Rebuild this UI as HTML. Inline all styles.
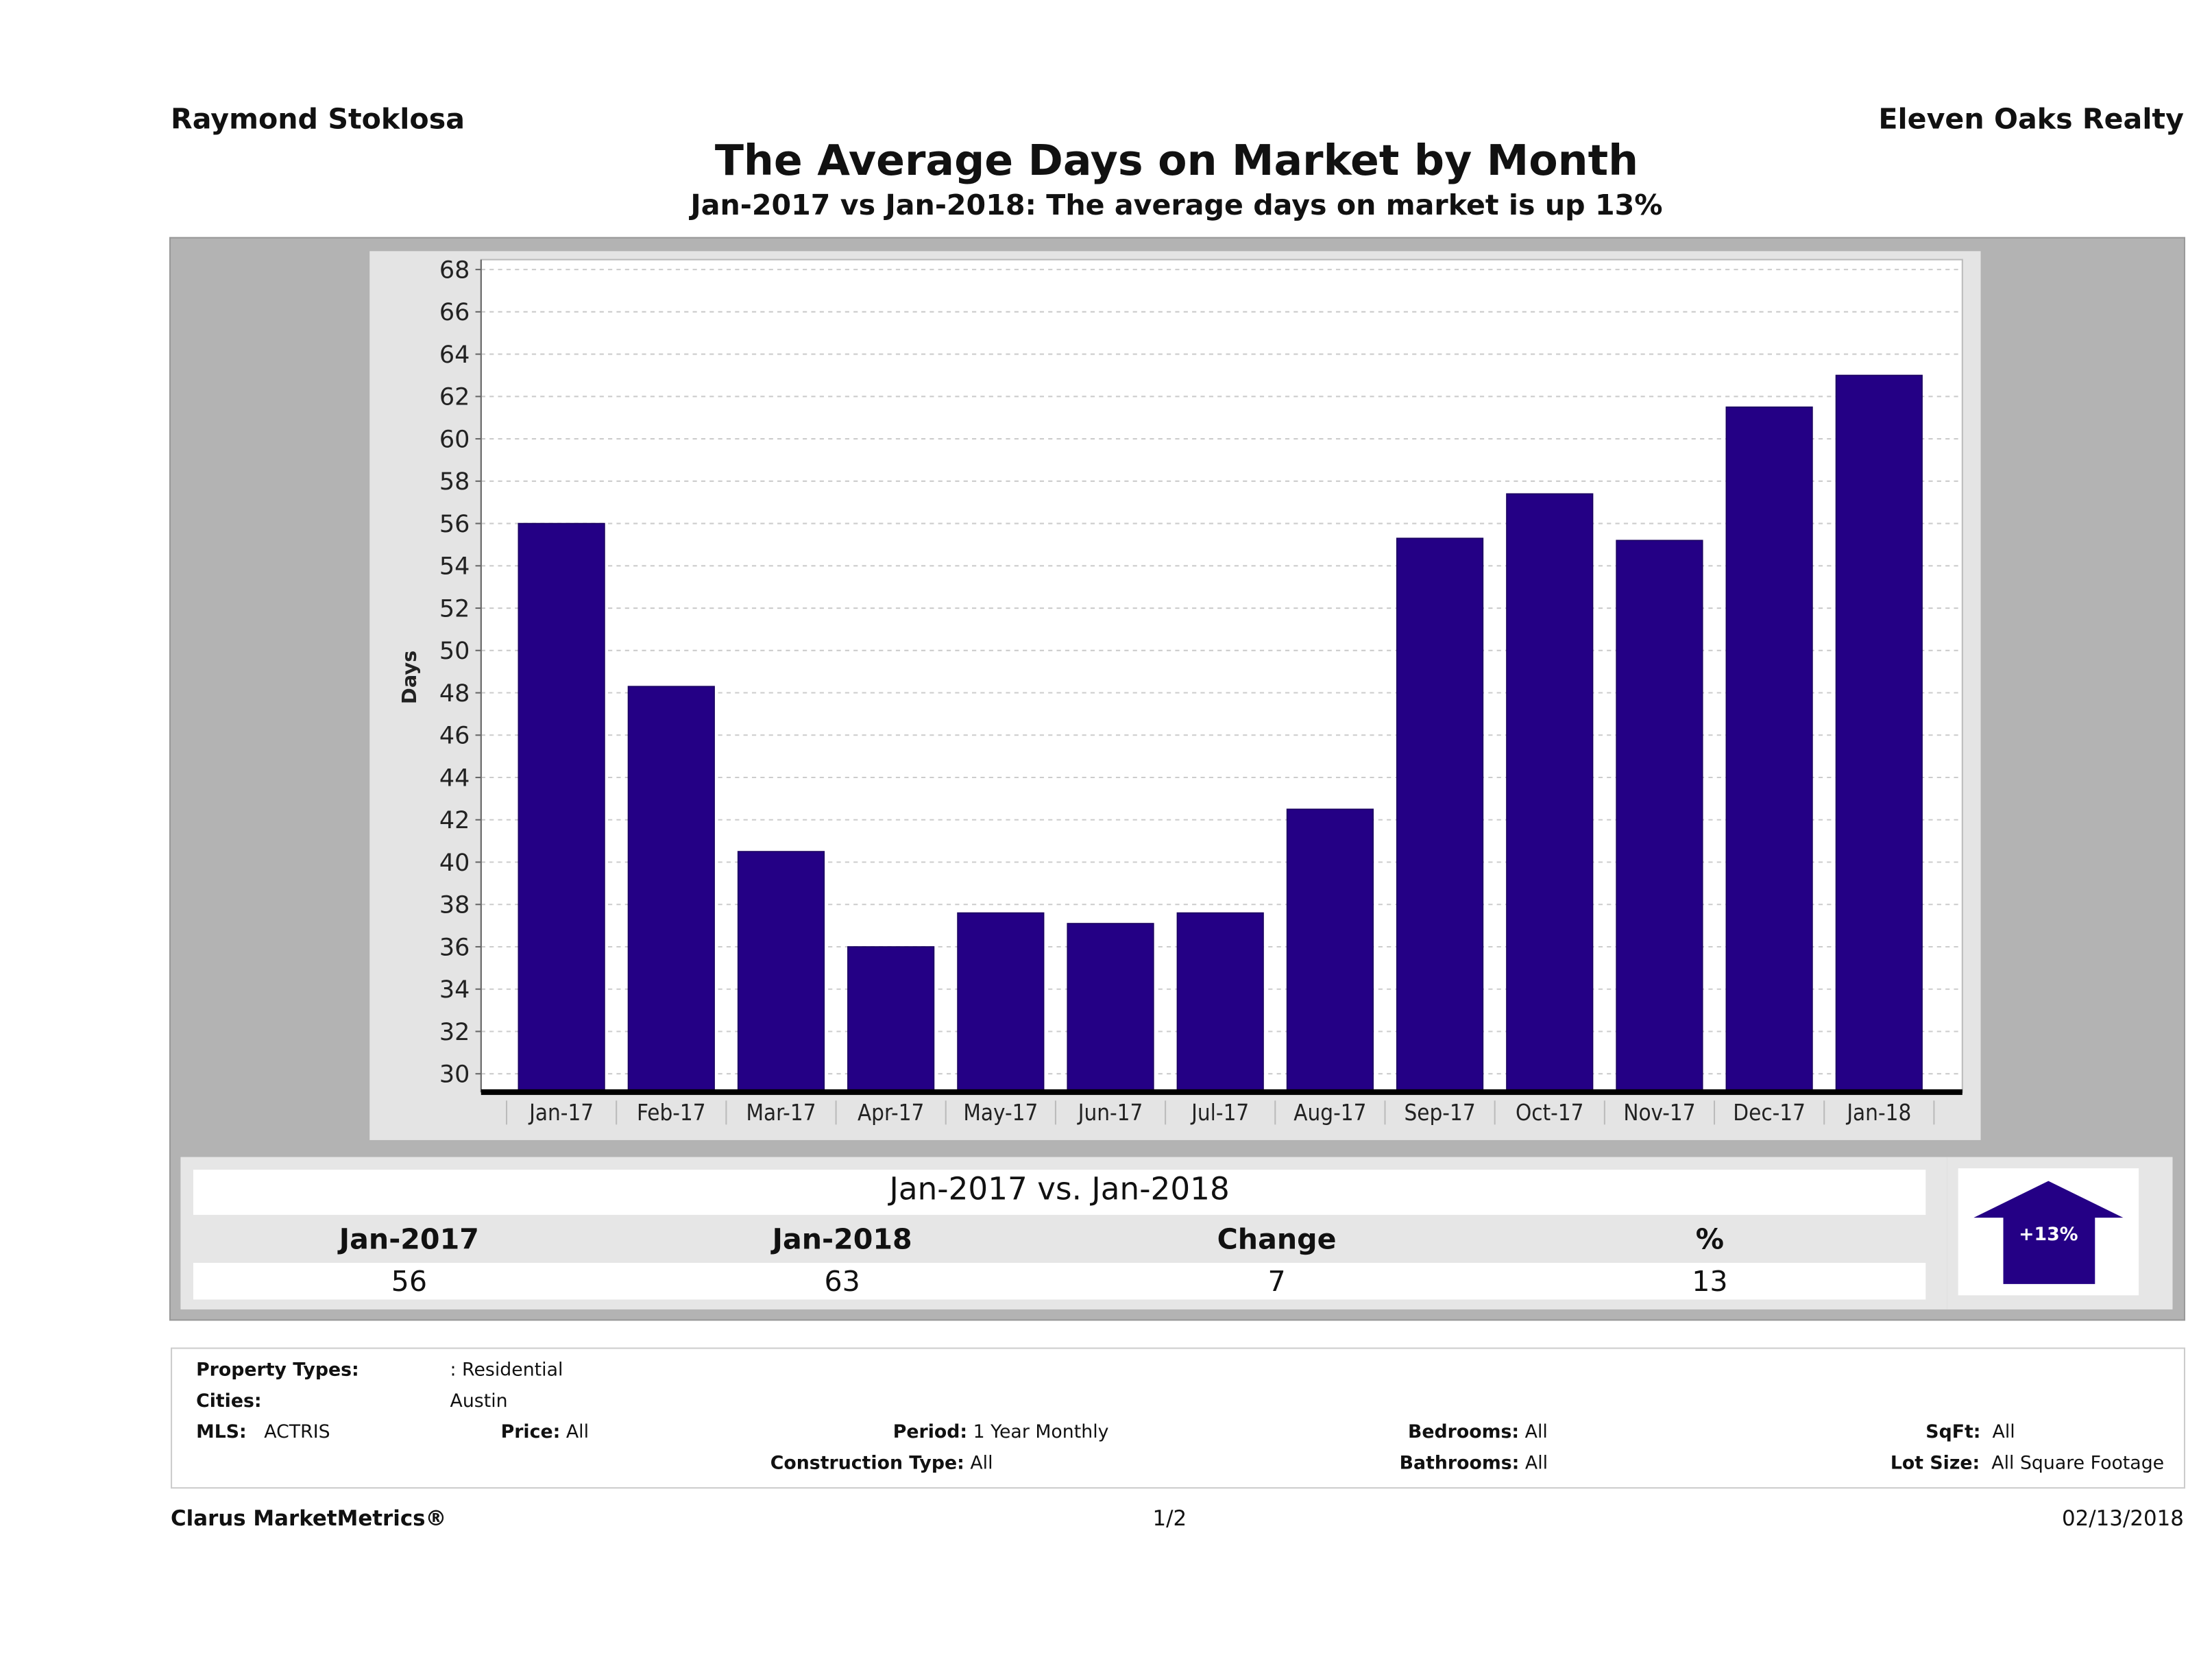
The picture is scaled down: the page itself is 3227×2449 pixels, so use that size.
<!DOCTYPE html>
<html><head><meta charset="utf-8">
<style>
html,body{margin:0;padding:0;background:#fff;}
body{width:3227px;height:2448px;overflow:hidden;}
#wrap{position:absolute;left:0;top:0;width:1568px;height:1190px;transform:scale(2.0581);transform-origin:0 0;font-family:"DejaVu Sans","Liberation Sans",sans-serif;color:#111;}
.t{position:absolute;white-space:nowrap;}
.b{font-weight:bold;}
</style></head><body>
<div id="wrap">
<div class="t b" style="left:121px;top:72px;font-size:20px;">Raymond Stoklosa</div>
<div class="t b" style="right:20px;top:72px;font-size:20px;">Eleven Oaks Realty</div>
<div class="t b" style="left:0;width:1668px;text-align:center;top:97px;font-size:30px;">The Average Days on Market by Month</div>
<div class="t b" style="left:0;width:1668px;text-align:center;top:133px;font-size:20px;">Jan-2017 vs Jan-2018: The average days on market is up 13%</div>

<div style="position:absolute;left:120px;top:168px;width:1427px;height:766px;background:#b3b3b3;border:1px solid #999;"></div>
<div style="position:absolute;left:262px;top:178px;width:1142px;height:630px;background:#e4e4e4;"></div>
<svg id="chart" style="position:absolute;left:0;top:0;" width="1568" height="1190"></svg>

<div style="position:absolute;left:128px;top:820px;width:1252px;height:108px;background:#e6e6e6;"></div>
<div style="position:absolute;left:137px;top:829px;width:1228px;height:32px;background:#fff;"></div>
<div class="t" style="left:137px;width:1228px;text-align:center;top:831px;font-size:22px;">Jan-2017 vs. Jan-2018</div>
<div style="position:absolute;left:137px;top:895px;width:1228px;height:26px;background:#fff;"></div>
<div class="t b" style="left:190px;width:200px;text-align:center;top:866px;font-size:20px;">Jan-2017</div>
<div class="t b" style="left:497px;width:200px;text-align:center;top:866px;font-size:20px;">Jan-2018</div>
<div class="t b" style="left:805px;width:200px;text-align:center;top:866px;font-size:20px;">Change</div>
<div class="t b" style="left:1112px;width:200px;text-align:center;top:866px;font-size:20px;">%</div>
<div class="t" style="left:190px;width:200px;text-align:center;top:896px;font-size:20px;">56</div>
<div class="t" style="left:497px;width:200px;text-align:center;top:896px;font-size:20px;">63</div>
<div class="t" style="left:805px;width:200px;text-align:center;top:896px;font-size:20px;">7</div>
<div class="t" style="left:1112px;width:200px;text-align:center;top:896px;font-size:20px;">13</div>
<div style="position:absolute;left:1380px;top:820px;width:160px;height:108px;background:#e6e6e6;"></div>
<div style="position:absolute;left:1388px;top:828px;width:128px;height:90px;background:#fff;">
<svg width="128" height="90"><polygon points="64,9 117,35 97,35 97,82 32,82 32,35 11,35" fill="#240085"/><text x="64" y="51" text-anchor="middle" font-family="DejaVu Sans,sans-serif" font-weight="bold" font-size="13" fill="#fff">+13%</text></svg>
</div>

<div style="position:absolute;left:121px;top:955px;width:1426px;height:98px;border:1px solid #ccc;"></div>
<div style="font-size:13px;">
<div class="t b" style="left:139px;top:964px;">Property Types:</div><div class="t" style="left:319px;top:964px;">: Residential</div>
<div class="t b" style="left:139px;top:986px;">Cities:</div><div class="t" style="left:319px;top:986px;">Austin</div>
<div class="t" style="left:139px;top:1008px;"><b>MLS:</b>&nbsp;&nbsp;&nbsp;ACTRIS</div>
<div class="t" style="left:355px;top:1008px;"><b>Price:</b> All</div>
<div class="t" style="left:633px;top:1008px;"><b>Period:</b> 1 Year Monthly</div>
<div class="t" style="left:546px;top:1030px;"><b>Construction Type:</b> All</div>
<div class="t" style="left:998px;top:1008px;"><b>Bedrooms:</b> All</div>
<div class="t" style="left:992px;top:1030px;"><b>Bathrooms:</b> All</div>
<div class="t" style="left:1365px;top:1008px;"><b>SqFt:</b>&nbsp;&nbsp;All</div>
<div class="t" style="left:1340px;top:1030px;"><b>Lot Size:</b>&nbsp;&nbsp;All Square Footage</div>
</div>
<div class="t b" style="left:121px;top:1067px;font-size:15px;">Clarus MarketMetrics®</div>
<div class="t" style="left:817px;top:1067px;font-size:15px;">1/2</div>
<div class="t" style="right:20px;top:1067px;font-size:15px;">02/13/2018</div>
</div>
<script>
const categories=["Jan-17","Feb-17","Mar-17","Apr-17","May-17","Jun-17","Jul-17","Aug-17","Sep-17","Oct-17","Nov-17","Dec-17","Jan-18"];
const values=[56,48.3,40.5,36,37.6,37.1,37.6,42.5,55.3,57.4,55.2,61.5,63];
const yTicks=[30,32,34,36,38,40,42,44,46,48,50,52,54,56,58,60,62,64,66,68];
const NS="http://www.w3.org/2000/svg";
const svg=document.getElementById('chart');
const px0=341,px1=1391,pyTop=184,pyBase=774;
const y=v=>761-(v-30)*15;
const step=77.83,x0=398-step/2;
const xc=i=>x0+step*(i+0.5);
function mk(t,a,p){const e=document.createElementNS(NS,t);for(const k in a)e.setAttribute(k,a[k]);(p||svg).appendChild(e);return e;}
let r=mk('rect',{x:px0,y:pyTop,width:px1-px0,height:pyBase-pyTop,fill:'#fff',stroke:'#bbb'});


yTicks.forEach(v=>{
 let g=mk('line',{x1:px0,x2:px1,y1:y(v),y2:y(v),stroke:'#ccc','stroke-dasharray':'3,3'});
 
 
 mk('line',{x1:px0-4,x2:px0,y1:y(v),y2:y(v),stroke:'#666'});
 let t=mk('text',{x:px0-8,y:y(v)+6,'text-anchor':'end','font-size':'17','font-family':'DejaVu Sans,sans-serif',fill:'#222'});
 t.textContent=v;
 
 
});
mk('line',{x1:px0,x2:px0,y1:pyTop,y2:pyBase,stroke:'#666'});
values.forEach((v,i)=>{
 let b=mk('rect',{x:xc(i)-30.5,y:y(v),width:61,height:pyBase-y(v),fill:'#240085',stroke:'#1a0060','stroke-width':'0.8'});
 
 
});
mk('rect',{x:px0,y:pyBase-2,width:px1-px0,height:4,fill:'#000'});
categories.forEach((c,i)=>{
 mk('line',{x1:xc(i)-step/2,x2:xc(i)-step/2,y1:780,y2:797,stroke:'#bbb'});
 let t=mk('text',{x:xc(i),y:794,'text-anchor':'middle','font-size':'16','font-family':'DejaVu Sans Condensed,DejaVu Sans,sans-serif',fill:'#222'});
 t.textContent=c;
 
 
});
mk('line',{x1:xc(12)+step/2,x2:xc(12)+step/2,y1:780,y2:797,stroke:'#bbb'});
let yt=mk('text',{x:0,y:0,transform:'translate(295,480) rotate(-90)','text-anchor':'middle','font-size':'14','font-weight':'bold','font-family':'DejaVu Sans,sans-serif',fill:'#222'});
yt.textContent='Days';


</script>
</body></html>
